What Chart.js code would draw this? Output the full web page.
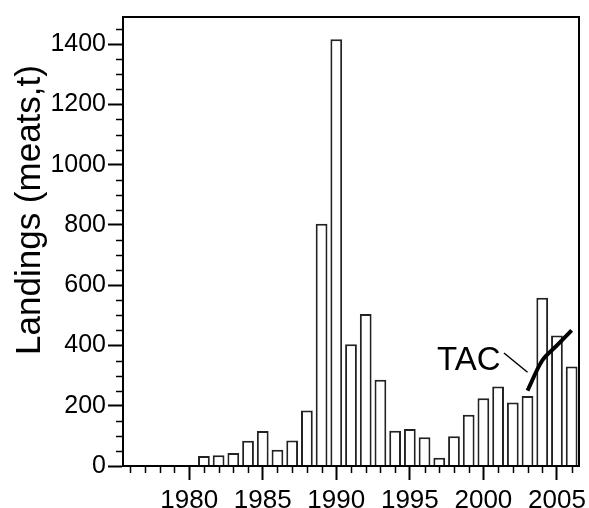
<!DOCTYPE html>
<html>
<head>
<meta charset="utf-8">
<script src="https://cdn.jsdelivr.net/npm/chart.js@4/dist/chart.umd.min.js"></script>
<style>
  html, body { margin: 0; padding: 0; background: #fff; }
  canvas { display: block; }
</style>
</head>
<body>
<canvas id="landings" width="589" height="508"></canvas>
<script>
// data
const years = [
  1976, 1977, 1978, 1979, 1980, 1981, 1982, 1983, 1984, 1985,
  1986, 1987, 1988, 1989, 1990, 1991, 1992, 1993, 1994, 1995,
  1996, 1997, 1998, 1999, 2000, 2001, 2002, 2003, 2004, 2005, 2006
];
const landings = [
  null, null, null, null, null, 33, 36, 43, 84, 116,
  54, 85, 184, 804, 1416, 404, 504, 286, 117, 123,
  95, 27, 99, 170, 225, 264, 211, 232, 558, 433, 330
];
const tac = [
  null, null, null, null, null, null, null, null, null, null,
  null, null, null, null, null, null, null, null, null, null,
  null, null, null, null, null, null, null, 250, 350, 400, 450
];
const yTickLabels = [0, 200, 400, 600, 800, 1000, 1200, 1400];
const xTickLabels = [1980, 1985, 1990, 1995, 2000, 2005];

const FONT = "'Liberation Sans', Arial, sans-serif";
Chart.defaults.font.family = FONT;
Chart.defaults.color = "#000";

// minor ticks, box border, axis title and TAC label
const extras = {
  id: "extras",
  afterDraw(chart) {
    const { ctx, chartArea: a, scales: { x, y } } = chart;
    ctx.save();
    ctx.strokeStyle = "#000";
    ctx.lineWidth = 2;
    ctx.strokeRect(a.left, a.top, a.right - a.left, a.bottom - a.top);

    ctx.lineWidth = 1.5;
    ctx.beginPath();
    for (let v = 50; v <= 1450; v += 50) {
      if (yTickLabels.includes(v)) continue;
      const py = Math.round(y.getPixelForValue(v)) + 0.5;
      ctx.moveTo(a.left - 7, py);
      ctx.lineTo(a.left, py);
    }
    years.forEach((yr, i) => {
      if (xTickLabels.includes(yr)) return;
      const px = Math.round(x.getPixelForValue(i)) + 0.5;
      ctx.moveTo(px, a.bottom);
      ctx.lineTo(px, a.bottom + 7);
    });
    ctx.stroke();

    // axis title
    ctx.fillStyle = "#000";
    ctx.font = "35px " + FONT;
    ctx.textAlign = "center";
    ctx.textBaseline = "alphabetic";
    ctx.translate(39.5, 210);
    ctx.rotate(-Math.PI / 2);
    ctx.fillText("Landings (meats,t)", 0, 0);
    ctx.restore();

    // TAC label with pointer
    ctx.save();
    ctx.fillStyle = "#000";
    ctx.font = "33px " + FONT;
    ctx.textAlign = "left";
    ctx.textBaseline = "alphabetic";
    ctx.fillText("TAC", x.getPixelForValue(20.85), y.getPixelForValue(319));
    ctx.strokeStyle = "#000";
    ctx.lineWidth = 1.5;
    ctx.beginPath();
    ctx.moveTo(x.getPixelForValue(25.4), y.getPixelForValue(375));
    ctx.lineTo(x.getPixelForValue(27.0), y.getPixelForValue(311));
    ctx.stroke();
    ctx.restore();
  }
};

new Chart(document.getElementById("landings"), {
  type: "bar",
  data: {
    labels: years,
    datasets: [
      {
        type: "line",
        label: "TAC",
        data: tac,
        borderColor: "#000",
        borderWidth: 4,
        pointRadius: 0,
        tension: 0.3,
        order: 0
      },
      {
        label: "Landings",
        data: landings,
        backgroundColor: "#fff",
        borderColor: "#222",
        borderWidth: 2,
        barPercentage: 0.8,
        categoryPercentage: 1,
        order: 1
      }
    ]
  },
  options: {
    responsive: false,
    animation: false,
    devicePixelRatio: 1,
    layout: { padding: { top: 10, right: 10, left: 0, bottom: 0 } },
    plugins: { legend: { display: false }, tooltip: { enabled: false } },
    scales: {
      x: {
        afterFit: s => { s.height = 42; },
        border: { color: "#000", width: 2 },
        grid: {
          offset: false,
          drawOnChartArea: false,
          tickLength: 14,
          tickWidth: 2,
          tickColor: c => xTickLabels.includes(years[c.index]) ? "#000" : "rgba(0,0,0,0)"
        },
        ticks: {
          autoSkip: false,
          maxRotation: 0,
          minRotation: 0,
          padding: 5,
          font: { size: 26, family: FONT },
          callback: (v, i) => xTickLabels.includes(years[i]) ? String(years[i]) : ""
        }
      },
      y: {
        min: 0,
        max: 1490,
        afterFit: s => { s.width = 123; },
        afterBuildTicks: s => { s.ticks = yTickLabels.map(v => ({ value: v })); },
        border: { color: "#000", width: 2 },
        grid: {
          drawOnChartArea: false,
          tickLength: 15,
          tickWidth: 2,
          tickColor: "#000"
        },
        ticks: {
          padding: 2,
          font: { size: 25, family: FONT },
          callback: v => String(v)
        }
      }
    }
  },
  plugins: [extras]
});
</script>
</body>
</html>
